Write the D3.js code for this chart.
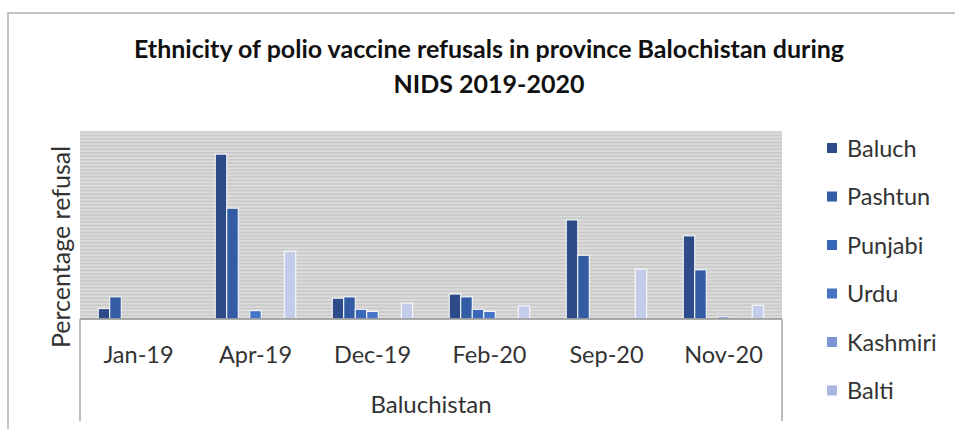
<!DOCTYPE html>
<html>
<head>
<meta charset="utf-8">
<script src="https://cdn.jsdelivr.net/npm/d3@7"></script>
<style>
  html, body { margin: 0; padding: 0; background: #fff; }
  svg { display: block; font-family: Lato, "Open Sans", sans-serif; }
</style>
</head>
<body>
<svg id="chart" width="955" height="429"></svg>
<script>
// ---- data ----
const categories = ["Jan-19", "Apr-19", "Dec-19", "Feb-20", "Sep-20", "Nov-20"];
const groupLabel = "Baluchistan";
const seriesNames = ["Baluch", "Pashtun", "Punjabi", "Urdu", "Kashmiri", "Balti", "Others"];
const legendShown = ["Baluch", "Pashtun", "Punjabi", "Urdu", "Kashmiri", "Balti"];
const baluch   = [1.5, 23.8, 3.0, 3.6, 14.3, 12.0];
const pashtun  = [3.2, 16.0, 3.2, 3.2,  9.2,  7.1];
const punjabi  = [0,    0,   1.4, 1.4,  0,    0  ];
const urdu     = [0,    1.2, 1.1, 1.1,  0,    0.3];
const kashmiri = [0,    0,   0,   0,    0,    0  ];
const balti    = [0,    0,   0,   0,    0,    0  ];
const others   = [0,    9.8, 2.3, 1.9,  7.2,  2.0];
const seriesValues = [baluch, pashtun, punjabi, urdu, kashmiri, balti, others];
const colors = ["#2d4b88", "#335ca4", "#3a68b9", "#4674c6", "#7d95d4", "#a8b7e0", "#c3cdea"];
const title = ["Ethnicity of polio vaccine refusals in province Balochistan during", "NIDS 2019-2020"];
const yTitle = "Percentage refusal";
const yMax = 27, gridStep = 0.5;

// ---- layout ----
const svg = d3.select("#chart");
const plot = { left: 80, right: 782, top: 132, bottom: 319 };

// outer chart border
svg.append("path")
  .attr("d", `M8,429 L8,13 L955,13`)
  .attr("fill", "none").attr("stroke", "#c4c4c4").attr("stroke-width", 2);

// title
svg.append("g").selectAll("text").data(title).join("text")
  .attr("x", 489).attr("y", (d, i) => 58 + i * 35)
  .attr("text-anchor", "middle")
  .attr("font-weight", "bold").attr("font-size", 25).attr("fill", "#111")
  .text(d => d);

const x = d3.scaleBand().domain(categories).range([plot.left, plot.right]).padding(0);
const inner = d3.scaleBand().domain(seriesNames)
  .range([x.bandwidth() * 0.156, x.bandwidth() * 0.844]).padding(0);
const y = d3.scaleLinear().domain([0, yMax]).range([plot.bottom, plot.top]);

// plot background + stripes (gridlines)
svg.append("rect")
  .attr("x", plot.left).attr("y", plot.top)
  .attr("width", plot.right - plot.left).attr("height", plot.bottom - plot.top)
  .attr("fill", "#dbdbdb");
const gridVals = d3.range(gridStep, yMax + 0.001, gridStep);
svg.append("g").selectAll("line").data(gridVals).join("line")
  .attr("x1", plot.left).attr("x2", plot.right)
  .attr("y1", d => y(d)).attr("y2", d => y(d))
  .attr("stroke", "#c8c8c8").attr("stroke-width", 1.5);

// bars
const barData = [];
seriesNames.forEach((s, si) => {
  seriesValues[si].forEach((v, ci) => {
    if (v > 0) barData.push({ series: s, cat: categories[ci], value: v, color: colors[si] });
  });
});
svg.append("g").selectAll("rect").data(barData).join("rect")
  .attr("x", d => x(d.cat) + inner(d.series))
  .attr("y", d => y(d.value))
  .attr("width", inner.bandwidth())
  .attr("height", d => y(0) - y(d.value))
  .attr("fill", d => d.color)
  .attr("stroke", "#ffffff").attr("stroke-width", 1);

// baseline
svg.append("line")
  .attr("x1", plot.left).attr("x2", plot.right)
  .attr("y1", plot.bottom).attr("y2", plot.bottom)
  .attr("stroke", "#8f8f8f").attr("stroke-width", 1.5);

// multi-level category axis box
svg.append("g").selectAll("line").data([plot.left, plot.right]).join("line")
  .attr("x1", d => d).attr("x2", d => d)
  .attr("y1", plot.bottom).attr("y2", 421)
  .attr("stroke", "#a6a6a6").attr("stroke-width", 1.5);

const xAxis = d3.axisBottom(x).tickSize(0).tickPadding(0);
const gx = svg.append("g").attr("transform", `translate(0,${plot.bottom})`).call(xAxis);
gx.select(".domain").remove();
gx.selectAll("text")
  .attr("y", 44).attr("dy", 0)
  .attr("font-size", 23.5).attr("fill", "#333").attr("font-family", "Lato, 'Open Sans', sans-serif");

svg.append("text")
  .attr("x", (plot.left + plot.right) / 2).attr("y", 413)
  .attr("text-anchor", "middle").attr("font-size", 24).attr("fill", "#333")
  .text(groupLabel);

// y axis title
svg.append("text")
  .attr("transform", `translate(70,247) rotate(-90)`)
  .attr("text-anchor", "middle").attr("font-size", 25).attr("fill", "#333")
  .text(yTitle);

// legend
const lg = svg.append("g").selectAll("g").data(legendShown).join("g")
  .attr("transform", (d, i) => `translate(827,${148 + i * 48.5})`);
lg.append("rect").attr("x", 0).attr("y", -5).attr("width", 10).attr("height", 10)
  .attr("fill", d => colors[seriesNames.indexOf(d)]);
lg.append("text").attr("x", 20).attr("y", 8.5)
  .attr("font-size", 23.5).attr("fill", "#333").text(d => d);
</script>
</body>
</html>
